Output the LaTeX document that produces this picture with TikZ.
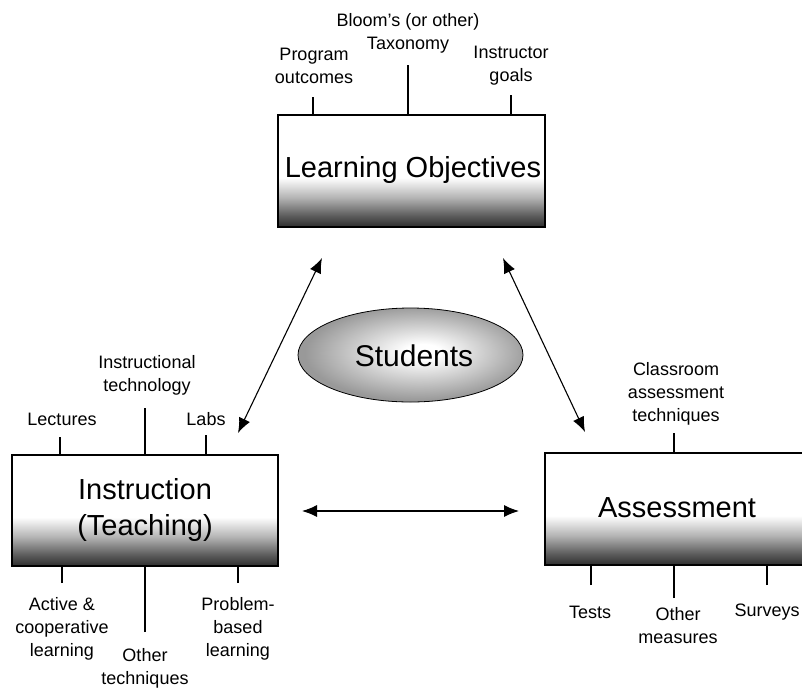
\documentclass[tikz,border=0pt]{standalone}
\usepackage{fontspec}
\setmainfont{Liberation Sans}
\usetikzlibrary{arrows.meta}
\pgfdeclareverticalshading{boxshade}{100bp}{color(0bp)=(black!82); color(25bp)=(black!82); color(30bp)=(black!64); color(38bp)=(black!30); color(47bp)=(white); color(100bp)=(white)}
\pgfdeclareradialshading{ellshade}{\pgfpoint{3bp}{2bp}}{color(0bp)=(white); color(4bp)=(white); color(25bp)=(black!40); color(50bp)=(black!40)}
\tikzset{
  mainbox/.style={draw=black, line width=1.6pt, shading=boxshade, inner sep=0pt},
  lbl/.style={align=center, inner sep=0pt, font=\fontsize{18}{23}\selectfont},
  big/.style={align=center, inner sep=0pt, font=\fontsize{29}{36}\selectfont},
  tickline/.style={line width=1.6pt},
  dblarrow/.style={line width=1.1pt, {Latex[length=15pt,width=12pt]}-{Latex[length=15pt,width=12pt]}}
}
\begin{document}
\begin{tikzpicture}[x=1pt,y=-1pt]
\useasboundingbox (0,0) rectangle (802,689);
\clip (0,0) rectangle (802,689);
% boxes
\path[mainbox] (278,115) rectangle (545,227);
\node[big] (lo) at (413,170) {Learning Objectives};
\coordinate (lotop) at (411.5,115);
\path[mainbox] (12,455) rectangle (278,566);
\node[big] (ins) at (145,510) {Instruction\\(Teaching)};
\coordinate (instop) at (145,455);
\coordinate (insbot) at (145,566);
\path[mainbox] (545,453) rectangle (808,565);
\node[big] (as) at (677,508) {Assessment};
\coordinate (astop) at (676,453);
\coordinate (asbot) at (676,565);
% ellipse
\path[draw=black, line width=0.8pt, shading=ellshade] (410.5,355) ellipse [x radius=112.5, y radius=47];
\node[inner sep=0pt, font=\fontsize{30}{36}\selectfont] (st) at (414,356) {Students};
% LO labels
\node[lbl] (prog) at (314,66) {Program\\outcomes};
\node[lbl] (bloom) at (408,33) {Bloom's (or other)\\Taxonomy};
\node[lbl] (instr) at (511,66) {Instructor\\goals};
\coordinate (t1) at (313,97);
\coordinate (t2) at (408,65);
\coordinate (t3) at (511,95);
\draw[tickline] (t1) -- (t1 |- lotop);
\draw[tickline] (t2) -- (t2 |- lotop);
\draw[tickline] (t3) -- (t3 |- lotop);
% Instruction labels
\node[lbl] (lect) at (62,419) {Lectures};
\node[lbl] (itech) at (147,375) {Instructional\\technology};
\node[lbl] (labs) at (206,419) {Labs};
\node[lbl] (active) at (62,629) {Active \&\\cooperative\\learning};
\node[lbl] (other) at (145,668) {Other\\techniques};
\node[lbl] (pbl) at (238,629) {Problem-\\based\\learning};
\coordinate (i1) at (60,437);
\coordinate (i2) at (145,408);
\coordinate (i3) at (206,435);
\coordinate (i4) at (62,583);
\coordinate (i5) at (145,632);
\coordinate (i6) at (238,583);
\draw[tickline] (i1) -- (i1 |- instop);
\draw[tickline] (i2) -- (i2 |- instop);
\draw[tickline] (i3) -- (i3 |- instop);
\draw[tickline] (i4) -- (i4 |- insbot);
\draw[tickline] (i5) -- (i5 |- insbot);
\draw[tickline] (i6) -- (i6 |- insbot);
% Assessment labels
\node[lbl] (cat) at (676,394) {Classroom\\assessment\\techniques};
\node[lbl] (tests) at (590,612) {Tests};
\node[lbl] (omeas) at (678,626) {Other\\measures};
\node[lbl] (surv) at (767,612) {Surveys};
\coordinate (a1) at (674,433);
\coordinate (a2) at (591,585);
\coordinate (a3) at (674,598);
\coordinate (a4) at (767,585);
\draw[tickline] (a1) -- (a1 |- astop);
\draw[tickline] (a2) -- (a2 |- asbot);
\draw[tickline] (a3) -- (a3 |- asbot);
\draw[tickline] (a4) -- (a4 |- asbot);
% arrows
\coordinate (p1) at (322,258);
\coordinate (p2) at (238,433);
\coordinate (q1) at (503,258);
\coordinate (q2) at (585,432);
\coordinate (r1) at (302,511);
\coordinate (r2) at (519,511);
\draw[dblarrow] (p1) -- (p2);
\draw[dblarrow] (q1) -- (q2);
\draw[dblarrow] (r1) -- (r2);
\end{tikzpicture}
\end{document}
